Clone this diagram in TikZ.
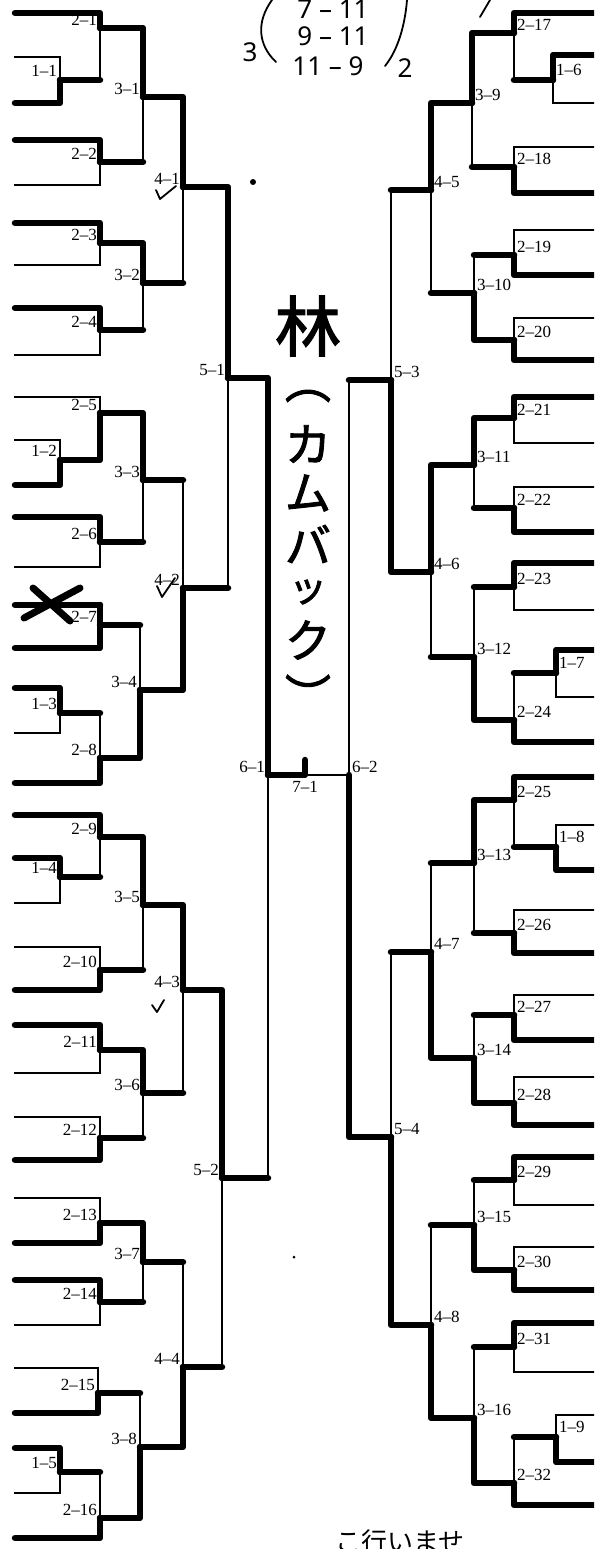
\documentclass[tikz,border=0pt]{standalone}
\usepackage{fontspec}
\setmainfont{Liberation Serif}
\newfontfamily\handfont{Noto Sans}
\newfontfamily\cjk{Noto Sans CJK JP}[FakeBold=2]
\newfontfamily\cjkthin{Noto Sans CJK JP}
\tikzset{
  bline/.style={line width=1.4pt, line cap=rect},
  wline/.style={line width=6.5pt, line cap=round, line join=round},
  pen/.style={line width=1.8pt, line cap=round, line join=round},
  xmark/.style={line width=7pt, line cap=round},
  lab/.style={font=\fontsize{17}{17}\selectfont, inner sep=0pt},
  labl/.style={lab, anchor=south east, xshift=-3pt, yshift=2pt},
  labl1/.style={lab, anchor=south east, xshift=-3pt, yshift=3pt},
  labr/.style={lab, anchor=south west, xshift=3pt, yshift=2pt},
  labr1/.style={lab, anchor=south west, xshift=3pt, yshift=4pt},
  hand/.style={font=\handfont\fontsize{26}{26}\selectfont, inner sep=0pt},
  kana/.style={inner sep=0pt}
}
\begin{document}
\begin{tikzpicture}[x=1pt, y=-1pt]
  \useasboundingbox (0,0) rectangle (594,1549);
  \clip (0,0) rectangle (594,1549);
  % players, left side
  \foreach \i/\y in {1/13, 2/57, 3/103, 4/140, 5/185, 6/223, 7/265, 8/308, 9/355,
      10/397, 11/440, 12/485, 13/517, 14/567, 15/605, 16/648, 17/688, 18/733, 19/783,
      20/815, 21/858, 22/903, 23/947, 24/990, 25/1025, 26/1073, 27/1117, 28/1160,
      29/1198, 30/1243, 31/1280, 32/1325, 33/1368, 34/1413, 35/1448, 36/1493, 37/1538}
    \coordinate (a\i) at (15,\y);
  % players, right side
  \foreach \i/\y in {1/13, 2/55, 3/103, 4/147, 5/193, 6/230, 7/275, 8/318, 9/360,
      10/397, 11/443, 12/487, 13/532, 14/563, 15/610, 16/650, 17/697, 18/742,
      19/777, 20/825, 21/870, 22/910, 23/953, 24/995, 25/1040, 26/1077, 27/1125,
      28/1157, 29/1205, 30/1247, 31/1290, 32/1323, 33/1372, 34/1415, 35/1462, 36/1505}
    \coordinate (b\i) at (596,\y);
  % match points
  \foreach \nm/\x/\y in {1-1/60/80, 1-2/60/460, 1-3/60/713, 1-4/60/877, 1-5/60/1472,
      2-1/100/28, 2-2/100/162, 2-3/100/243, 2-4/100/330, 2-5/100/413, 2-6/100/542,
      2-7/100/625, 2-8/100/758, 2-9/100/837, 2-10/100/970, 2-11/100/1050,
      2-12/100/1138, 2-13/100/1223, 2-14/100/1302, 2-15/98/1393, 2-16/100/1518,
      3-1/143/97, 3-2/143/283, 3-3/143/480, 3-4/140/690, 3-5/143/905, 3-6/143/1093,
      3-7/143/1262, 3-8/140/1447,
      4-1/183/187, 4-2/183/588, 4-3/183/990, 4-4/183/1367,
      5-1/228/378, 5-2/222/1178, 6-1/268/775, 7-1/305/775,
      1-6/553/80, 1-7/556/673, 1-8/556/847, 1-9/556/1437,
      2-17/514/33, 2-18/514/167, 2-19/514/255, 2-20/514/340, 2-21/514/418,
      2-22/514/508, 2-23/514/587, 2-24/514/720, 2-25/514/800, 2-26/514/933,
      2-27/514/1015, 2-28/514/1103, 2-29/514/1180, 2-30/514/1270, 2-31/514/1347,
      2-32/514/1483,
      3-9/472/103, 3-10/474/293, 3-11/474/465, 3-12/474/657, 3-13/474/863,
      3-14/474/1058, 3-15/474/1225, 3-16/474/1418,
      4-5/431/190, 4-6/431/572, 4-7/431/952, 4-8/431/1325,
      5-3/391/380, 5-4/391/1137, 6-2/349/775}
    \coordinate (m\nm) at (\x,\y);
  % round/number/winner/loser/loser line/label
  \def\bouts{1/1/a3/a2/bline/labl1, 1/2/a12/a11/bline/labl1, 1/3/a17/a18/bline/labl1,
    1/4/a21/a22/bline/labl1, 1/5/a35/a36/bline/labl1,
    2/1/a1/m1-1/wline/labl, 2/2/a4/a5/bline/labl, 2/3/a6/a7/bline/labl,
    2/4/a8/a9/bline/labl, 2/5/m1-2/a10/bline/labl, 2/6/a13/a14/bline/labl,
    2/7/a16/a15/wline/labl, 2/8/a19/m1-3/wline/labl, 2/9/a20/m1-4/wline/labl,
    2/10/a24/a23/bline/labl, 2/11/a25/a26/bline/labl, 2/12/a28/a27/bline/labl,
    2/13/a30/a29/bline/labl, 2/14/a31/a32/bline/labl, 2/15/a34/a33/bline/labl,
    2/16/a37/m1-5/wline/labl,
    3/1/m2-1/m2-2/wline/labl, 3/2/m2-3/m2-4/wline/labl, 3/3/m2-5/m2-6/wline/labl,
    3/4/m2-8/m2-7/wline/labl, 3/5/m2-9/m2-10/wline/labl, 3/6/m2-11/m2-12/wline/labl,
    3/7/m2-13/m2-14/wline/labl, 3/8/m2-16/m2-15/wline/labl,
    4/1/m3-1/m3-2/wline/labl, 4/2/m3-4/m3-3/wline/labl, 4/3/m3-5/m3-6/wline/labl,
    4/4/m3-8/m3-7/wline/labl,
    5/1/m4-1/m4-2/wline/labl, 5/2/m4-3/m4-4/wline/labl, 6/1/m5-1/m5-2/wline/labl,
    1/6/b2/b3/bline/labr1, 1/7/b16/b17/bline/labr1, 1/8/b21/b20/bline/labr1,
    1/9/b35/b34/bline/labr1,
    2/17/b1/m1-6/wline/labr, 2/18/b5/b4/bline/labr, 2/19/b7/b6/bline/labr,
    2/20/b9/b8/bline/labr, 2/21/b10/b11/bline/labr, 2/22/b13/b12/bline/labr,
    2/23/b14/b15/bline/labr, 2/24/b18/m1-7/wline/labr, 2/25/b19/m1-8/wline/labr,
    2/26/b23/b22/bline/labr, 2/27/b25/b24/bline/labr, 2/28/b27/b26/bline/labr,
    2/29/b28/b29/bline/labr, 2/30/b31/b30/bline/labr, 2/31/b32/b33/bline/labr,
    2/32/b36/m1-9/wline/labr,
    3/9/m2-17/m2-18/wline/labr, 3/10/m2-20/m2-19/wline/labr,
    3/11/m2-21/m2-22/wline/labr, 3/12/m2-24/m2-23/wline/labr,
    3/13/m2-25/m2-26/wline/labr, 3/14/m2-28/m2-27/wline/labr,
    3/15/m2-30/m2-29/wline/labr, 3/16/m2-32/m2-31/wline/labr,
    4/5/m3-9/m3-10/wline/labr, 4/6/m3-11/m3-12/wline/labr,
    4/7/m3-14/m3-13/wline/labr, 4/8/m3-16/m3-15/wline/labr,
    5/3/m4-6/m4-5/wline/labr, 5/4/m4-8/m4-7/wline/labr, 6/2/m5-4/m5-3/wline/labr}
  \foreach \rd/\nb/\wn/\ls/\st/\lb in \bouts {
    \draw[bline] (\wn -| m\rd-\nb) -- (\ls -| m\rd-\nb);
    \draw[\st] (\ls) -- (\ls -| m\rd-\nb);
    \draw[wline] (\wn) -- (\wn -| m\rd-\nb) -- (m\rd-\nb);
    \node[\lb] (t\rd-\nb) at (m\rd-\nb) {\rd\textendash\nb};
  }
  \draw[wline] (a15 -| m2-7) -- (m2-7);
  % final
  \draw[wline] (m6-1) -- (m7-1) -- ++(0,-15);
  \draw[bline] (m7-1) -- (m6-2);
  \node[lab, anchor=north, yshift=-6pt] (t7-1) at (m7-1) {7\textendash1};
  % hand marks
  \draw[xmark] (33,588) -- (70,621);
  \draw[xmark] (24,618) -- (80,588);
  \draw[pen] (156,190) -- (160,199) -- (176,186);
  \draw[pen] (157,586) -- (162,597) -- (175,578);
  \draw[pen] (152,1005) -- (157,1012) -- (164,1000);
  \fill (253,182) circle (3);
  \fill (294,1257) circle (1.5);
  % scores at the top
  \node[hand] (s1) at (333,9) {7 – 11};
  \node[hand] (s2) at (333,36) {9 – 11};
  \node[hand] (s3) at (328,66) {11 – 9};
  \node[hand] (gl) at (250,52) {3};
  \node[hand] (gr) at (405,68) {2};
  \draw[pen] (272,0) .. controls (256,22) and (258,45) .. (276,62);
  \draw[pen] (407,0) .. controls (405,25) and (398,50) .. (385,66);
  \draw[pen] (490,0) -- (480,17);
  % name in the middle
  \foreach \c/\y/\s [count=\i] in {林/326/66, ︵/396/46, カ/444/46, ム/493/46,
      バ/544/46, ッ/592/38, ク/640/46, ︶/694/46}
    \node[kana, font=\cjk\fontsize{\s}{\s}\selectfont] (k\i) at (308,\y) {\c};
  \node[kana, font=\cjkthin\fontsize{26}{26}\selectfont, anchor=north] (foot) at (400,1529) {こ行いませ};
\end{tikzpicture}
\end{document}
